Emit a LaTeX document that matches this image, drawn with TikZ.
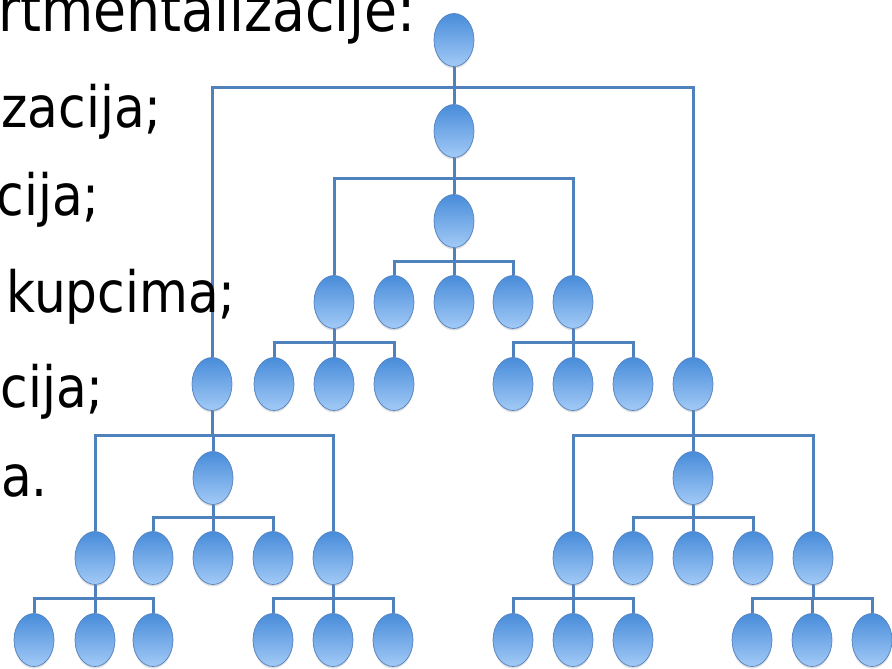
\documentclass[tikz,border=0pt]{standalone}
\usepackage{fontspec}
\newfontfamily\slidefont{DejaVu Sans}[FakeStretch=0.88]
\usetikzlibrary{shapes.geometric,shadows,backgrounds}
\definecolor{linec}{RGB}{79,129,189}
\definecolor{topc}{RGB}{72,140,218}
\definecolor{botc}{RGB}{162,202,246}
\definecolor{bordc}{RGB}{84,130,190}
\tikzset{
  orgnode/.style={ellipse, draw=bordc, line width=0.7pt, top color=topc, bottom color=botc,
    minimum width=40pt, minimum height=53pt, inner sep=0pt,
    drop shadow={opacity=0.25, shadow xshift=0pt, shadow yshift=-2pt}},
  conn/.style={draw=linec, line width=3pt},
  slidetext/.style={anchor=base east, inner sep=0pt, font=\slidefont\fontsize{57}{60}\selectfont},
  headtext/.style={anchor=base east, inner sep=0pt, font=\slidefont\fontsize{61}{64}\selectfont}
}
\begin{document}
\begin{tikzpicture}[x=1pt,y=-1pt]
\clip (0,0) rectangle (892,669);
% text
\node[headtext] (t1) at (416,32) {rtmentalizacije:};
\node[slidetext] (t2) at (162,128) {zacija;};
\node[slidetext] (t3) at (100,215) {cija;};
\node[slidetext] (t4) at (236,312) {kupcima;};
\node[slidetext] (t5) at (104,407) {cija;};
\node[slidetext] (t6) at (48,496) {a.};
% nodes
\node[orgnode] (r) at (454,40) {};
\node[orgnode] (a) at (454,131) {};
\node[orgnode] (b) at (454,221) {};
\node[orgnode] (c1) at (334,302) {};
\node[orgnode] (c2) at (394,302) {};
\node[orgnode] (c3) at (454,302) {};
\node[orgnode] (c4) at (513,302) {};
\node[orgnode] (c5) at (573,302) {};
\node[orgnode] (L) at (212,384) {};
\node[orgnode] (d1) at (274,384) {};
\node[orgnode] (d2) at (334,384) {};
\node[orgnode] (d3) at (394,384) {};
\node[orgnode] (e1) at (513,384) {};
\node[orgnode] (e2) at (573,384) {};
\node[orgnode] (e3) at (633,384) {};
\node[orgnode] (R) at (693,384) {};
\node[orgnode] (Lm) at (213,478) {};
\node[orgnode] (Rm) at (693,478) {};
\node[orgnode] (f1) at (95,558) {};
\node[orgnode] (f2) at (153,558) {};
\node[orgnode] (f3) at (213,558) {};
\node[orgnode] (f4) at (273,558) {};
\node[orgnode] (f5) at (333,558) {};
\node[orgnode] (g1) at (573,558) {};
\node[orgnode] (g2) at (633,558) {};
\node[orgnode] (g3) at (693,558) {};
\node[orgnode] (g4) at (753,558) {};
\node[orgnode] (g5) at (813,558) {};
\node[orgnode] (h1) at (34,640) {};
\node[orgnode] (h2) at (95,640) {};
\node[orgnode] (h3) at (153,640) {};
\node[orgnode] (h4) at (273,640) {};
\node[orgnode] (h5) at (333,640) {};
\node[orgnode] (h6) at (393,640) {};
\node[orgnode] (k1) at (513,640) {};
\node[orgnode] (k2) at (573,640) {};
\node[orgnode] (k3) at (633,640) {};
\node[orgnode] (k4) at (752,640) {};
\node[orgnode] (k5) at (812,640) {};
\node[orgnode] (k6) at (872,640) {};
% bar coordinates
\coordinate (rb) at (454,88);
\coordinate (ab) at (454,178);
\coordinate (bb) at (454,261);
\coordinate (c1b) at (334,342);
\coordinate (c5b) at (573,342);
\coordinate (Lb) at (212,435);
\coordinate (Rb) at (693,435);
\coordinate (Lmb) at (213,517);
\coordinate (Rmb) at (693,517);
\coordinate (f1b) at (95,598);
\coordinate (f5b) at (333,598);
\coordinate (g1b) at (573,598);
\coordinate (g5b) at (813,598);
\begin{pgfonlayer}{background}
\foreach \p/\c in {r/a,r/L,r/R, a/b,a/c1,a/c5, b/c2,b/c3,b/c4,
  c1/d1,c1/d2,c1/d3, c5/e1,c5/e2,c5/e3, L/f1,L/Lm,L/f5, R/g1,R/Rm,R/g5,
  Lm/f2,Lm/f3,Lm/f4, Rm/g2,Rm/g3,Rm/g4, f1/h1,f1/h2,f1/h3, f5/h4,f5/h5,f5/h6,
  g1/k1,g1/k2,g1/k3, g5/k4,g5/k5,g5/k6}
  \draw[conn] (\p) -- (\p b) -| (\c);
\end{pgfonlayer}
\end{tikzpicture}
\end{document}
